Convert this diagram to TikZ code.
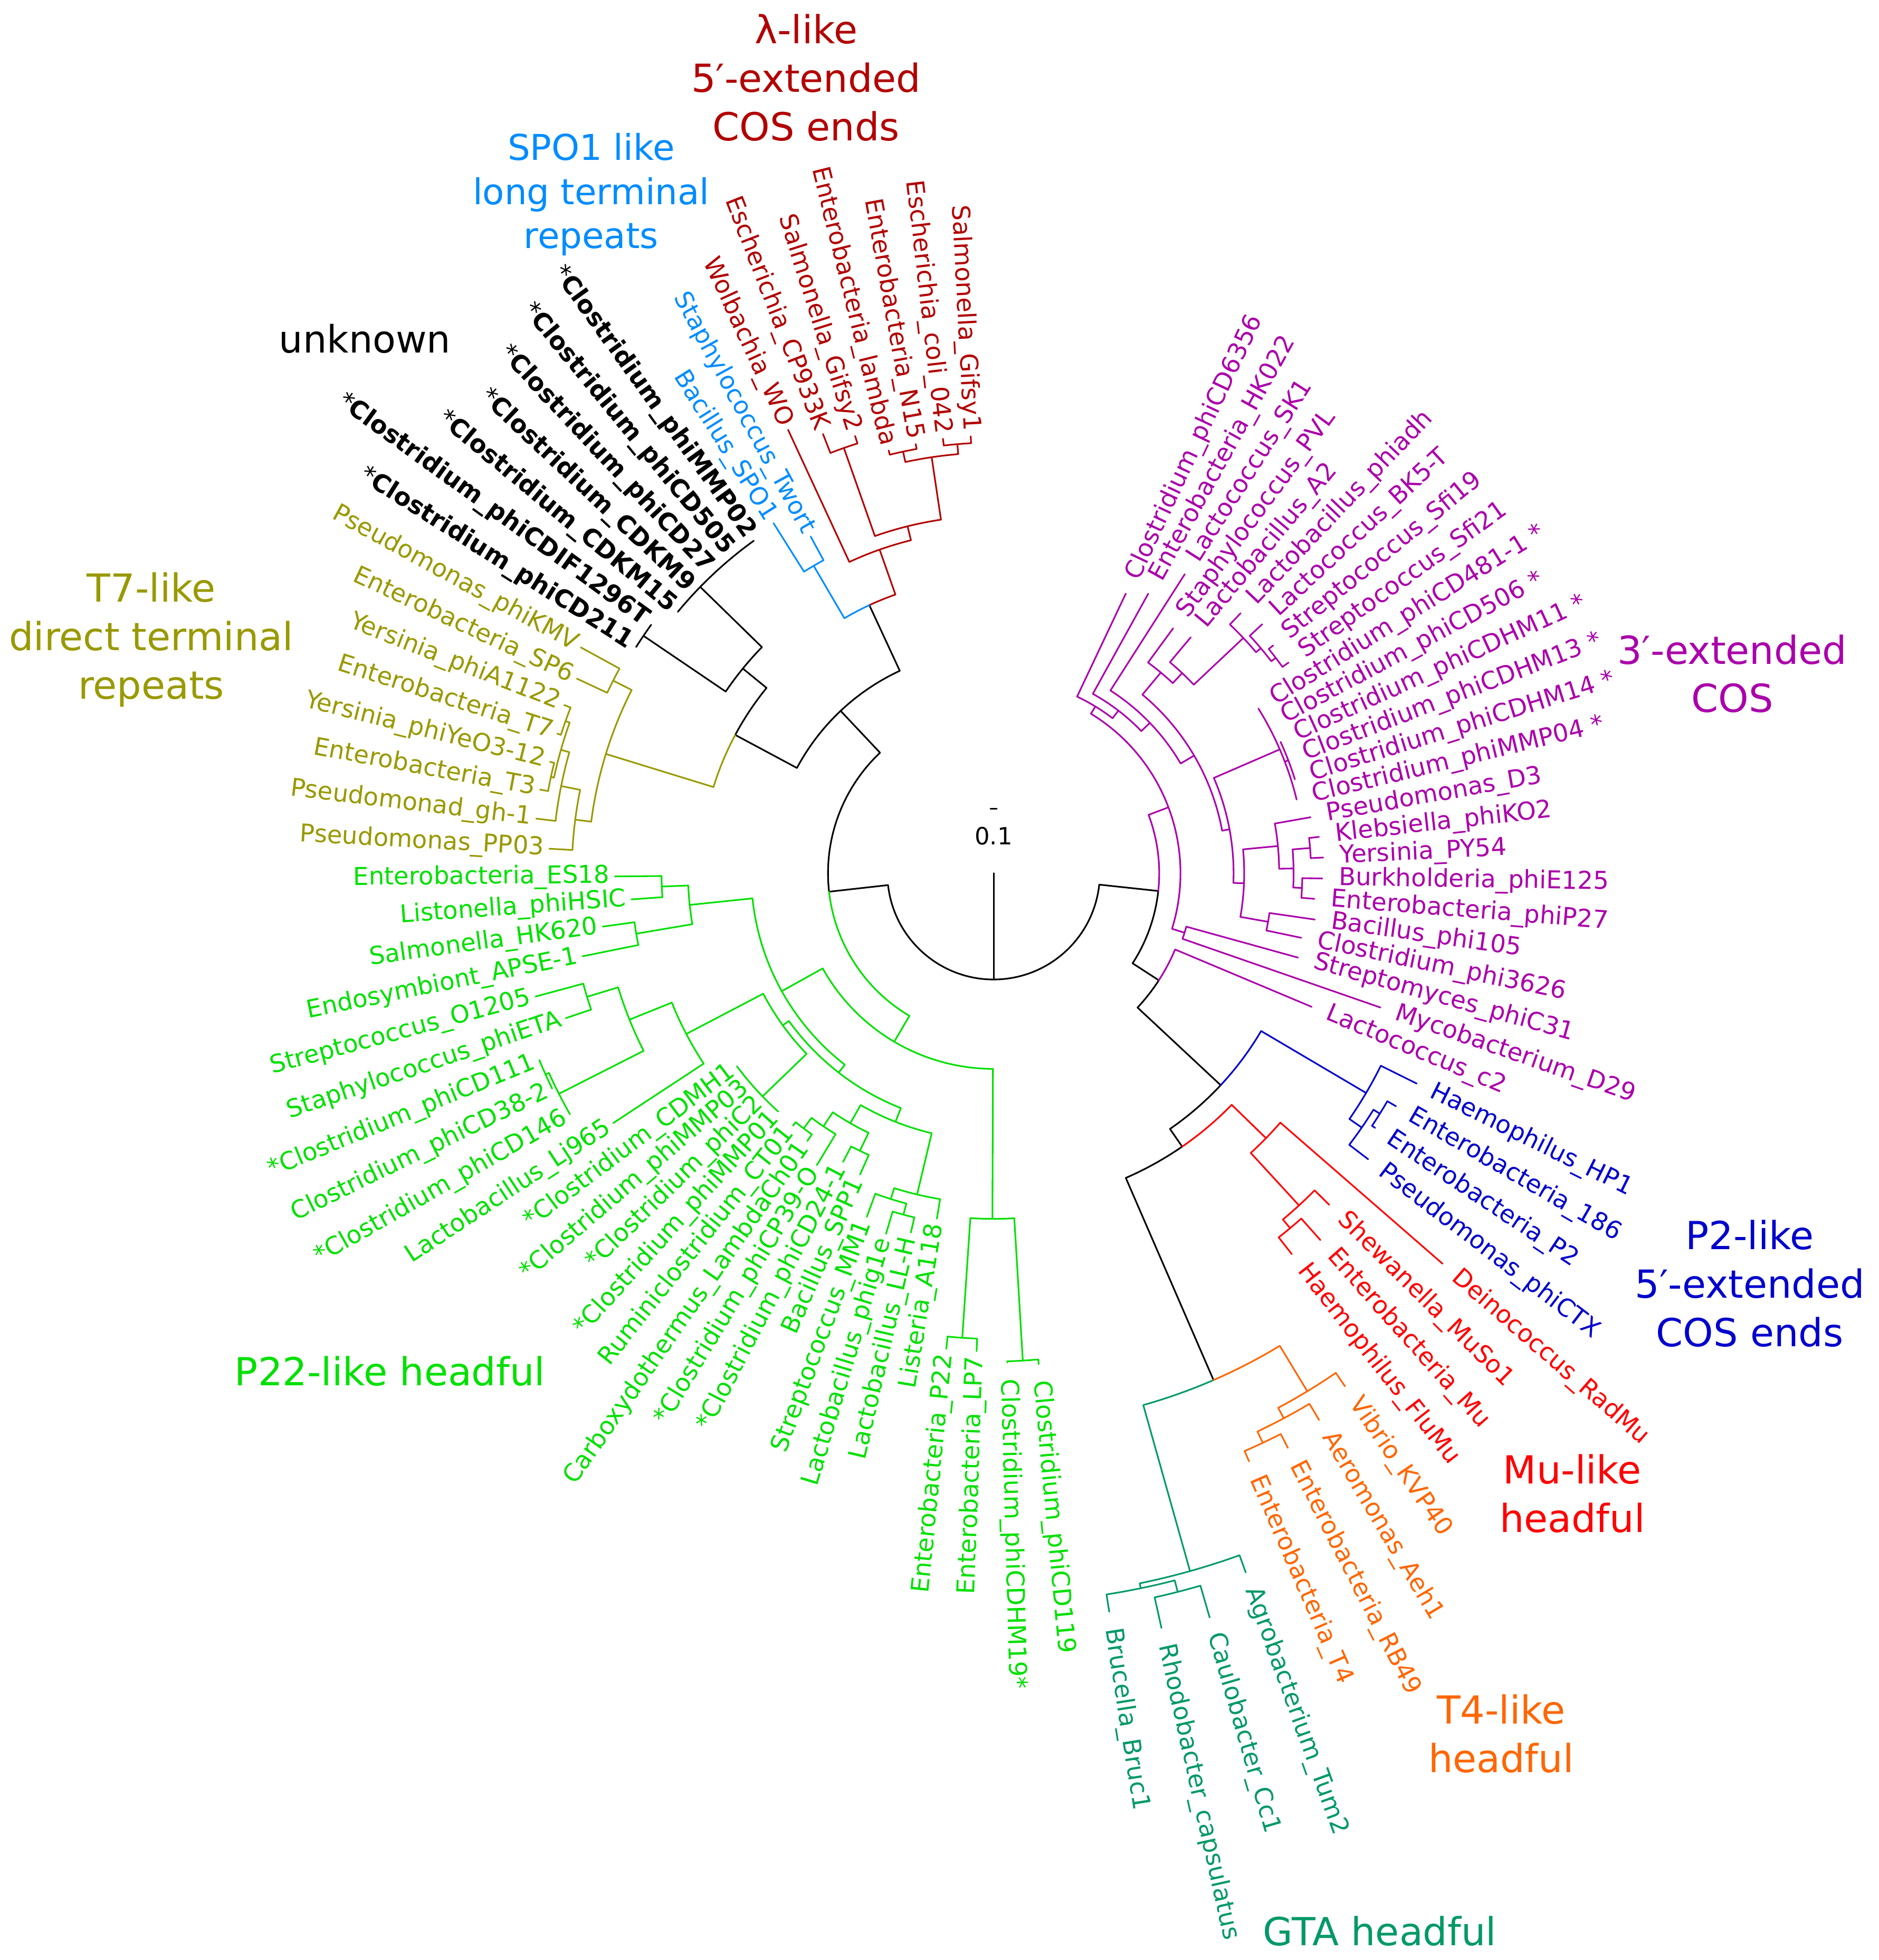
\documentclass[tikz,border=0pt]{standalone}
\usepackage{fontspec}
\setmainfont{DejaVu Sans}
\definecolor{cLam}{RGB}{178,0,0}
\definecolor{cSPO}{RGB}{0,140,255}
\definecolor{cT7}{RGB}{153,153,0}
\definecolor{cP22}{RGB}{0,224,0}
\definecolor{cGTA}{RGB}{0,153,102}
\definecolor{cT4}{RGB}{255,102,0}
\definecolor{cMu}{RGB}{255,0,0}
\definecolor{cP2}{RGB}{0,0,204}
\definecolor{cCOS}{RGB}{170,0,170}
\newcounter{lab}
\tikzset{
  br/.style={line width=0.026cm,line cap=round},
  lbl/.style={font=\fontsize{11.2}{13.5}\selectfont,inner sep=0pt},
  clade/.style={font=\fontsize{17.6}{22.1}\selectfont,align=center,inner sep=0pt},
  cladesm/.style={font=\fontsize{16.2}{20.1}\selectfont,align=center,inner sep=0pt}
}
\newcommand\Rd[4]{\draw[br,#1] ({#2}:{#3}) -- ({#2}:{#4});}
\newcommand\Ac[4]{\draw[br,#1] ({#3}:{#2}) arc[start angle={#3},end angle={#4},radius={#2}];}
\newcommand\LL[4]{\stepcounter{lab}\node[lbl,text=#1,anchor=east,rotate={#2-180}] (lab\arabic{lab}) at ({#2}:{#3+4}) {#4};}
\newcommand\LR[4]{\stepcounter{lab}\node[lbl,text=#1,anchor=west,rotate={#2}] (lab\arabic{lab}) at ({#2}:{#3+13}) {#4};}
\newcommand\LB[3]{\stepcounter{lab}\node[lbl,anchor=east,rotate={#1-180}] (lab\arabic{lab}) at ({#1}:{#2+5}) {{\mdseries*}\bfseries #3};}
\begin{document}
\begin{tikzpicture}[x=0.02cm,y=0.02cm]
\fill[white] (-795,-869.4) rectangle (708,698.6);
\useasboundingbox (-795,-869.4) rectangle (708,698.6);
% ---- root
\draw[br] (0,0) -- (270:85);
\Ac{black}{85}{186.4}{353.85}
\Rd{black}{186.4}{85}{132.5}
\Rd{black}{353.85}{85}{132.5}
\Ac{black}{132.5}{133.3}{186.4}
\Ac{cP22}{132.5}{186.4}{239.45}
\Rd{black}{133.3}{132.5}{178.5}
\Rd{cP22}{239.45}{132.5}{156.5}
\Ac{black}{178.5}{114.87}{151.84}
\Rd{black}{114.87}{178.5}{236.4}
\Rd{black}{151.84}{178.5}{234.5}
% ---- lambda + SPO1
\Ac{cLam}{236.4}{109.41}{114.87}
\Ac{cSPO}{236.4}{114.87}{120.34}
\Rd{cSPO}{120.34}{236.4}{285}
\Ac{cSPO}{285}{118.52}{122.16}
\Rd{cSPO}{118.52}{285}{306.6}
\Rd{cSPO}{122.16}{285}{330.8}
\Rd{cLam}{109.41}{236.4}{274.5}
\Ac{cLam}{274.5}{103.94}{114.87}
\Rd{cLam}{114.87}{274.5}{391}
\Rd{cLam}{103.94}{274.5}{286}
\Ac{cLam}{286}{98.47}{109.4}
\Rd{cLam}{109.4}{286}{360.7}
\Ac{cLam}{360.7}{107.58}{111.23}
\Rd{cLam}{107.58}{360.7}{367}
\Rd{cLam}{111.23}{360.7}{377}
\Rd{cLam}{98.47}{286}{336.5}
\Ac{cLam}{336.5}{94.83}{102.12}
\Rd{cLam}{102.12}{336.5}{345}
\Ac{cLam}{345}{100.29}{103.94}
\Rd{cLam}{100.29}{345}{349}
\Rd{cLam}{103.94}{345}{348.5}
\Rd{cLam}{94.83}{336.5}{344.5}
\Ac{cLam}{344.5}{93}{96.65}
\Rd{cLam}{93}{344.5}{350}
\Rd{cLam}{96.65}{344.5}{350}
% ---- unknown
\Ac{black}{234.5}{140.78}{151.84}
\Ac{cT7}{234.5}{151.84}{162.9}
\Rd{black}{140.78}{234.5}{259}
\Ac{black}{259}{135.7}{145.86}
\Rd{black}{135.7}{259}{328}
\Ac{black}{328}{125.81}{140.39}
\Rd{black}{145.86}{259}{338.5}
\Ac{black}{338.5}{144.03}{147.68}
% ---- T7
\Rd{cT7}{162.9}{234.5}{324.6}
\Ac{cT7}{324.6}{153.15}{172.7}
\Rd{cT7}{153.15}{324.6}{341.2}
\Ac{cT7}{341.2}{151.32}{154.97}
\Rd{cT7}{151.32}{341.2}{376.5}
\Rd{cT7}{154.97}{341.2}{368}
\Rd{cT7}{172.7}{324.6}{337.5}
\Ac{cT7}{337.5}{168.6}{176.84}
\Rd{cT7}{176.84}{337.5}{356}
\Rd{cT7}{168.6}{337.5}{353}
\Ac{cT7}{353}{164.08}{173.19}
\Rd{cT7}{173.19}{353}{368.6}
\Rd{cT7}{164.08}{353}{360}
\Ac{cT7}{360}{160.44}{167.73}
\Rd{cT7}{160.44}{360}{363.5}
\Ac{cT7}{363.5}{158.61}{162.26}
\Rd{cT7}{158.61}{363.5}{369}
\Rd{cT7}{162.26}{363.5}{366.5}
\Rd{cT7}{167.73}{360}{362.5}
\Ac{cT7}{362.5}{165.9}{169.55}
\Rd{cT7}{165.9}{362.5}{366}
\Rd{cT7}{169.55}{362.5}{369}
% ---- P22
\Ac{cP22}{156.5}{209.1}{269.8}
\Rd{cP22}{209.1}{156.5}{194}
\Ac{cP22}{194}{185.95}{232.15}
\Rd{cP22}{185.95}{194}{244.5}
\Ac{cP22}{244.5}{182.3}{189.6}
\Rd{cP22}{182.3}{244.5}{265.7}
\Ac{cP22}{265.7}{180.48}{184.13}
\Rd{cP22}{180.48}{265.7}{303}
\Rd{cP22}{184.13}{265.7}{290.5}
\Rd{cP22}{189.6}{244.5}{290}
\Ac{cP22}{290}{187.77}{191.42}
\Rd{cP22}{187.77}{290}{315.6}
\Rd{cP22}{191.42}{290}{335.5}
\Rd{cP22}{232.15}{194}{202}
\Ac{cP22}{202}{215.8}{248.45}
\Rd{cP22}{215.8}{202}{208}
\Ac{cP22}{208}{207.6}{224}
\Rd{cP22}{207.6}{208}{277.5}
\Ac{cP22}{277.5}{201.9}{213.29}
\Rd{cP22}{213.29}{277.5}{364}
\Rd{cP22}{201.9}{277.5}{314}
\Ac{cP22}{314}{196.9}{206.9}
\Rd{cP22}{196.9}{314}{340}
\Ac{cP22}{340}{195.06}{198.71}
\Rd{cP22}{195.06}{340}{379.6}
\Rd{cP22}{198.71}{340}{361.4}
\Rd{cP22}{206.9}{314}{390}
\Ac{cP22}{390}{204.18}{209.64}
\Rd{cP22}{204.18}{390}{393}
\Ac{cP22}{393}{202.35}{206}
\Rd{cP22}{224}{208}{257}
\Ac{cP22}{257}{216.93}{227.87}
\Rd{cP22}{248.45}{202}{213.8}
\Ac{cP22}{213.8}{240.16}{256.6}
\Rd{cP22}{240.16}{213.8}{230.5}
\Ac{cP22}{230.5}{236.07}{244.27}
\Rd{cP22}{236.07}{230.5}{244}
\Ac{cP22}{244}{233.33}{238.8}
\Rd{cP22}{233.33}{244}{254.5}
\Ac{cP22}{254.5}{231.51}{235.16}
\Rd{cP22}{231.51}{254.5}{258}
\Rd{cP22}{235.16}{254.5}{261}
\Rd{cP22}{238.8}{244}{273}
\Rd{cP22}{244.27}{230.5}{246.5}
\Ac{cP22}{246.5}{242.45}{246.09}
\Rd{cP22}{242.45}{246.5}{260.5}
\Rd{cP22}{246.09}{246.5}{263.7}
\Rd{cP22}{256.6}{213.8}{264.2}
\Ac{cP22}{264.2}{252.47}{260.67}
\Rd{cP22}{260.67}{264.2}{280}
\Rd{cP22}{252.47}{264.2}{273.3}
\Ac{cP22}{273.3}{249.74}{255.2}
\Rd{cP22}{249.74}{273.3}{293}
\Rd{cP22}{255.2}{273.3}{282.5}
\Ac{cP22}{282.5}{253.38}{257.03}
\Rd{cP22}{253.38}{282.5}{301}
\Rd{cP22}{257.03}{282.5}{295}
\Rd{cP22}{269.8}{156.5}{276.5}
\Ac{cP22}{276.5}{266.14}{273.43}
\Rd{cP22}{266.14}{276.5}{372.5}
\Ac{cP22}{372.5}{264.32}{267.96}
\Rd{cP22}{264.32}{372.5}{382.4}
\Rd{cP22}{267.96}{372.5}{382.6}
\Rd{cP22}{273.43}{276.5}{390.6}
\Ac{cP22}{390.6}{271.61}{275.25}
\Rd{cP22}{271.61}{390.6}{391.5}
\Rd{cP22}{275.25}{390.6}{394.4}
% ---- B side
\Ac{black}{132.5}{327.06}{353.85}
\Ac{cCOS}{132.5}{353.85}{380.65}
\Rd{cCOS}{20.65}{132.5}{149.5}
\Ac{cCOS}{149.5}{342.7}{418.6}
\Rd{cCOS}{58.6}{149.5}{156.3}
\Ac{cCOS}{156.3}{52.5}{64.7}
\Rd{cCOS}{64.7}{156.3}{247.5}
\Rd{cCOS}{52.5}{156.3}{164}
\Ac{cCOS}{164}{43.9}{61.05}
\Rd{cCOS}{61.05}{164}{255.6}
\Rd{cCOS}{43.9}{164}{173.5}
\Ac{cCOS}{173.5}{30.4}{57.41}
\Rd{cCOS}{57.41}{173.5}{284}
\Rd{cCOS}{30.4}{173.5}{186}
\Ac{cCOS}{186}{10.55}{50.2}
\Rd{cCOS}{50.2}{186}{209}
\Ac{cCOS}{209}{46.7}{53.76}
\Rd{cCOS}{53.76}{209}{243}
\Rd{cCOS}{46.7}{209}{220}
\Ac{cCOS}{220}{43.29}{50.12}
\Rd{cCOS}{50.12}{220}{246}
\Rd{cCOS}{43.29}{220}{274.5}
\Ac{cCOS}{274.5}{40.1}{46.47}
\Rd{cCOS}{46.47}{274.5}{287}
\Rd{cCOS}{40.1}{274.5}{279.5}
\Ac{cCOS}{279.5}{37.36}{42.83}
\Rd{cCOS}{42.83}{279.5}{293}
\Rd{cCOS}{37.36}{279.5}{284}
\Ac{cCOS}{284}{35.54}{39.18}
\Rd{cCOS}{39.18}{284}{288.5}
\Rd{cCOS}{35.54}{284}{290}
\Rd{cCOS}{10.55}{186}{192}
\Ac{cCOS}{192}{-2.3}{23.4}
\Rd{cCOS}{23.4}{192}{249.5}
\Ac{cCOS}{249.5}{13.67}{31.89}
\Rd{cCOS}{20.96}{249.5}{252.5}
\Ac{cCOS}{252.5}{17.31}{24.6}
\Rd{cCOS}{-2.3}{192}{200.5}
\Ac{cCOS}{200.5}{-10.03}{5.47}
\Rd{cCOS}{-10.03}{200.5}{223}
\Ac{cCOS}{223}{-11.85}{-8.2}
\Rd{cCOS}{-11.85}{223}{251.5}
\Rd{cCOS}{-8.2}{223}{259.6}
\Rd{cCOS}{5.47}{200.5}{228.5}
\Ac{cCOS}{228.5}{0.91}{10.02}
\Rd{cCOS}{10.02}{228.5}{257.5}
\Rd{cCOS}{0.91}{228.5}{240}
\Ac{cCOS}{240}{-2.73}{4.56}
\Rd{cCOS}{4.56}{240}{254}
\Ac{cCOS}{254}{2.73}{6.38}
\Rd{cCOS}{2.73}{254}{264}
\Rd{cCOS}{6.38}{254}{262}
\Rd{cCOS}{-2.73}{240}{247}
\Ac{cCOS}{247}{-4.56}{-0.91}
\Rd{cCOS}{-0.91}{247}{263}
\Rd{cCOS}{-4.56}{247}{257.5}
\Rd{cCOS}{342.7}{149.5}{160}
\Ac{cCOS}{160}{340.86}{344.51}
\Rd{cCOS}{340.86}{160}{327.6}
\Rd{cCOS}{344.51}{160}{252.7}
\Rd{black}{327.06}{132.5}{157.5}
\Ac{black}{157.5}{316.98}{327.06}
\Ac{cCOS}{157.5}{327.06}{337.22}
\Rd{cCOS}{337.22}{157.5}{276}
\Rd{black}{316.98}{157.5}{248.5}
\Ac{black}{248.5}{304.6}{316.98}
\Ac{cP2}{248.5}{316.98}{329.47}
\Rd{cP2}{329.47}{248.5}{346}
\Ac{cP2}{346}{325.37}{333.57}
\Rd{cP2}{333.57}{346}{378}
\Rd{cP2}{325.37}{346}{358}
\Ac{cP2}{358}{322.64}{328.1}
\Rd{cP2}{322.64}{358}{377}
\Rd{cP2}{328.1}{358}{364}
\Ac{cP2}{364}{326.28}{329.93}
\Rd{cP2}{329.93}{364}{372}
\Rd{cP2}{326.28}{364}{367}
\Rd{black}{304.6}{248.5}{265.7}
\Ac{black}{265.7}{293.46}{304.6}
\Ac{cMu}{265.7}{304.6}{315.8}
\Rd{cMu}{315.8}{265.7}{304}
\Ac{cMu}{304}{312.6}{318.99}
\Rd{cMu}{318.99}{304}{476}
\Rd{cMu}{312.6}{304}{361}
\Ac{cMu}{361}{309.88}{315.35}
\Rd{cMu}{315.35}{361}{377.5}
\Rd{cMu}{309.88}{361}{370}
\Ac{cMu}{370}{308.06}{311.7}
\Rd{cMu}{311.7}{370}{393}
\Rd{cMu}{308.06}{370}{387}
\Rd{black}{293.46}{265.7}{442}
\Ac{cGTA}{442}{285.72}{293.46}
\Ac{cT4}{442}{293.46}{301.2}
\Rd{cT4}{301.2}{442}{484.5}
\Ac{cT4}{484.5}{298.03}{304.41}
\Rd{cT4}{304.41}{484.5}{497.5}
\Rd{cT4}{298.03}{484.5}{494}
\Ac{cT4}{494}{295.3}{300.77}
\Rd{cT4}{300.77}{494}{509}
\Rd{cT4}{295.3}{494}{504}
\Ac{cT4}{504}{293.48}{297.12}
\Rd{cT4}{293.48}{504}{513}
\Rd{cT4}{297.12}{504}{516.5}
\Rd{cGTA}{285.72}{442}{580}
\Ac{cGTA}{580}{281.63}{289.83}
\Rd{cGTA}{289.83}{580}{594.6}
\Rd{cGTA}{281.63}{580}{584}
\Ac{cGTA}{584}{278.9}{284.37}
\Rd{cGTA}{278.9}{584}{598}
\Rd{cGTA}{284.37}{584}{593.5}
\Ac{cGTA}{593.5}{282.54}{286.19}
\Rd{cGTA}{282.54}{593.5}{618.6}
\Rd{cGTA}{286.19}{593.5}{620}
% ---- scale bar
\coordinate (sb1) at (-2.5,51.6);
\coordinate (sb2) at (2.5,51.6);
\draw[br] (sb1) -- (sb2);
\node[font=\fontsize{10.8}{13}\selectfont,inner sep=0pt] (sbl) at (0,30) {0.1};
% ---- leaf labels
\LL{cLam}{93}{350}{Salmonella\_Gifsy1}
\LL{cLam}{96.65}{350}{Escherichia\_coli\_042}
\LL{cLam}{100.29}{349}{Enterobacteria\_N15}
\LL{cLam}{103.94}{348.5}{Enterobacteria\_lambda}
\LL{cLam}{107.58}{367}{Salmonella\_Gifsy2}
\LL{cLam}{111.23}{377}{Escherichia\_CP933K}
\LL{cLam}{114.87}{391}{Wolbachia\_WO}
\LL{cSPO}{118.52}{306.6}{Staphylococcus\_Twort}
\LL{cSPO}{122.16}{330.8}{Bacillus\_SPO1}
\LB{125.81}{328}{Clostridium\_phiMMP02}
\LB{129.45}{328}{Clostridium\_phiCD505}
\LB{133.10}{328}{Clostridium\_phiCD27}
\LB{136.74}{328}{Clostridium\_CDKM9}
\LB{140.39}{328}{Clostridium\_CDKM15}
\LB{144.03}{338.5}{Clostridium\_phiCDIF1296T}
\LB{147.68}{338.5}{Clostridium\_phiCD211}
\LL{cT7}{151.32}{376.5}{Pseudomonas\_phiKMV}
\LL{cT7}{154.97}{368}{Enterobacteria\_SP6}
\LL{cT7}{158.61}{369}{Yersinia\_phiA1122}
\LL{cT7}{162.26}{366.5}{Enterobacteria\_T7}
\LL{cT7}{165.90}{366}{Yersinia\_phiYeO3-12}
\LL{cT7}{169.55}{369}{Enterobacteria\_T3}
\LL{cT7}{173.19}{368.6}{Pseudomonad\_gh-1}
\LL{cT7}{176.84}{356}{Pseudomonas\_PP03}
\LL{cP22}{180.48}{303}{Enterobacteria\_ES18}
\LL{cP22}{184.13}{290.5}{Listonella\_phiHSIC}
\LL{cP22}{187.77}{315.6}{Salmonella\_HK620}
\LL{cP22}{191.42}{335.5}{Endosymbiont\_APSE-1}
\LL{cP22}{195.06}{379.6}{Streptococcus\_O1205}
\LL{cP22}{198.71}{361.4}{Staphylococcus\_phiETA}
\LL{cP22}{202.35}{393}{*Clostridium\_phiCD111}
\LL{cP22}{206.00}{393}{Clostridium\_phiCD38-2}
\LL{cP22}{209.64}{390}{*Clostridium\_phiCD146}
\LL{cP22}{213.29}{364}{Lactobacillus\_Lj965}
\LL{cP22}{216.93}{257}{*Clostridium\_CDMH1}
\LL{cP22}{220.58}{257}{*Clostridium\_phiMMP03}
\LL{cP22}{224.22}{257}{*Clostridium\_phiC2}
\LL{cP22}{227.87}{257}{*Clostridium\_phiMMP01}
\LL{cP22}{231.51}{258}{Ruminiclostridium\_CT01}
\LL{cP22}{235.16}{261}{Carboxydothermus\_LambdaCh01}
\LL{cP22}{238.80}{273}{*Clostridium\_phiCP39-O}
\LL{cP22}{242.45}{260.5}{*Clostridium\_phiCD24-1}
\LL{cP22}{246.09}{263.7}{Bacillus\_SPP1}
\LL{cP22}{249.74}{293}{Streptococcus\_MM1}
\LL{cP22}{253.38}{301}{Lactobacillus\_phig1e}
\LL{cP22}{257.03}{295}{Lactobacillus\_LL-H}
\LL{cP22}{260.67}{280}{Listeria\_A118}
\LL{cP22}{264.32}{382.4}{Enterobacteria\_P22}
\LL{cP22}{267.96}{382.6}{Enterobacteria\_LP7}
\LR{cP22}{271.61}{391.5}{Clostridium\_phiCDHM19*}
\LR{cP22}{275.25}{394.4}{Clostridium\_phiCD119}
\LR{cGTA}{278.90}{598}{Brucella\_Bruc1}
\LR{cGTA}{282.54}{618.6}{Rhodobacter\_capsulatus}
\LR{cGTA}{286.19}{620}{Caulobacter\_Cc1}
\LR{cGTA}{289.83}{594.6}{Agrobacterium\_Tum2}
\LR{cT4}{293.48}{513}{Enterobacteria\_T4}
\LR{cT4}{297.12}{516.5}{Enterobacteria\_RB49}
\LR{cT4}{300.77}{509}{Aeromonas\_Aeh1}
\LR{cT4}{304.41}{497.5}{Vibrio\_KVP40}
\LR{cMu}{308.06}{387}{Haemophilus\_FluMu}
\LR{cMu}{311.70}{393}{Enterobacteria\_Mu}
\LR{cMu}{315.35}{377.5}{Shewanella\_MuSo1}
\LR{cMu}{318.99}{476}{Deinococcus\_RadMu}
\LR{cP2}{322.64}{377}{Pseudomonas\_phiCTX}
\LR{cP2}{326.28}{367}{Enterobacteria\_P2}
\LR{cP2}{329.93}{372}{Enterobacteria\_186}
\LR{cP2}{333.57}{378}{Haemophilus\_HP1}
\LR{cCOS}{337.22}{276}{Lactococcus\_c2}
\LR{cCOS}{340.86}{327.6}{Mycobacterium\_D29}
\LR{cCOS}{344.51}{252.7}{Streptomyces\_phiC31}
\LR{cCOS}{348.15}{251.5}{Clostridium\_phi3626}
\LR{cCOS}{351.80}{259.6}{Bacillus\_phi105}
\LR{cCOS}{355.44}{257.5}{Enterobacteria\_phiP27}
\LR{cCOS}{359.09}{263}{Burkholderia\_phiE125}
\LR{cCOS}{2.73}{264}{Yersinia\_PY54}
\LR{cCOS}{6.38}{262}{Klebsiella\_phiKO2}
\LR{cCOS}{10.02}{257.5}{Pseudomonas\_D3}
\LR{cCOS}{13.67}{249.5}{Clostridium\_phiMMP04 *}
\LR{cCOS}{17.31}{252.5}{Clostridium\_phiCDHM14 *}
\LR{cCOS}{20.96}{252.5}{Clostridium\_phiCDHM13 *}
\LR{cCOS}{24.60}{252.5}{Clostridium\_phiCDHM11 *}
\LR{cCOS}{28.25}{249.5}{Clostridium\_phiCD506 *}
\LR{cCOS}{31.89}{249.5}{Clostridium\_phiCD481-1 *}
\LR{cCOS}{35.54}{290}{Streptococcus\_Sfi21}
\LR{cCOS}{39.18}{288.5}{Streptococcus\_Sfi19}
\LR{cCOS}{42.83}{293}{Lactococcus\_BK5-T}
\LR{cCOS}{46.47}{287}{Lactobacillus\_phiadh}
\LR{cCOS}{50.12}{246}{Lactobacillus\_A2}
\LR{cCOS}{53.76}{243}{Staphylococcus\_PVL}
\LR{cCOS}{57.41}{284}{Lactococcus\_SK1}
\LR{cCOS}{61.05}{255.6}{Enterobacteria\_HK022}
\LR{cCOS}{64.70}{247.5}{Clostridium\_phiCD6356}
% ---- clade labels
\node[clade,text=cLam] (cl1) at (-150,636.6) {λ-like\\5′-extended\\COS ends};
\node[cladesm,text=cSPO] (cl2) at (-322,543) {SPO1 like\\long terminal\\repeats};
\node[clade,font=\fontsize{17.2}{21}\selectfont] (cl3) at (-503,427.6) {unknown};
\node[clade,text=cT7] (cl4) at (-674,186.6) {T7-like\\direct terminal\\repeats};
\node[clade,text=cP22] (cl5) at (-483,-398.4) {P22-like headful};
\node[clade,text=cGTA] (cl6) at (309,-846.4) {GTA headful};
\node[clade,text=cT4] (cl7) at (406,-688.4) {T4-like\\headful};
\node[clade,text=cMu] (cl8) at (463,-496.4) {Mu-like\\headful};
\node[clade,text=cP2] (cl9) at (605,-328.4) {P2-like\\5′-extended\\COS ends};
\node[clade,text=cCOS] (cl10) at (591,159.6) {3′-extended\\COS};
\end{tikzpicture}
\end{document}
